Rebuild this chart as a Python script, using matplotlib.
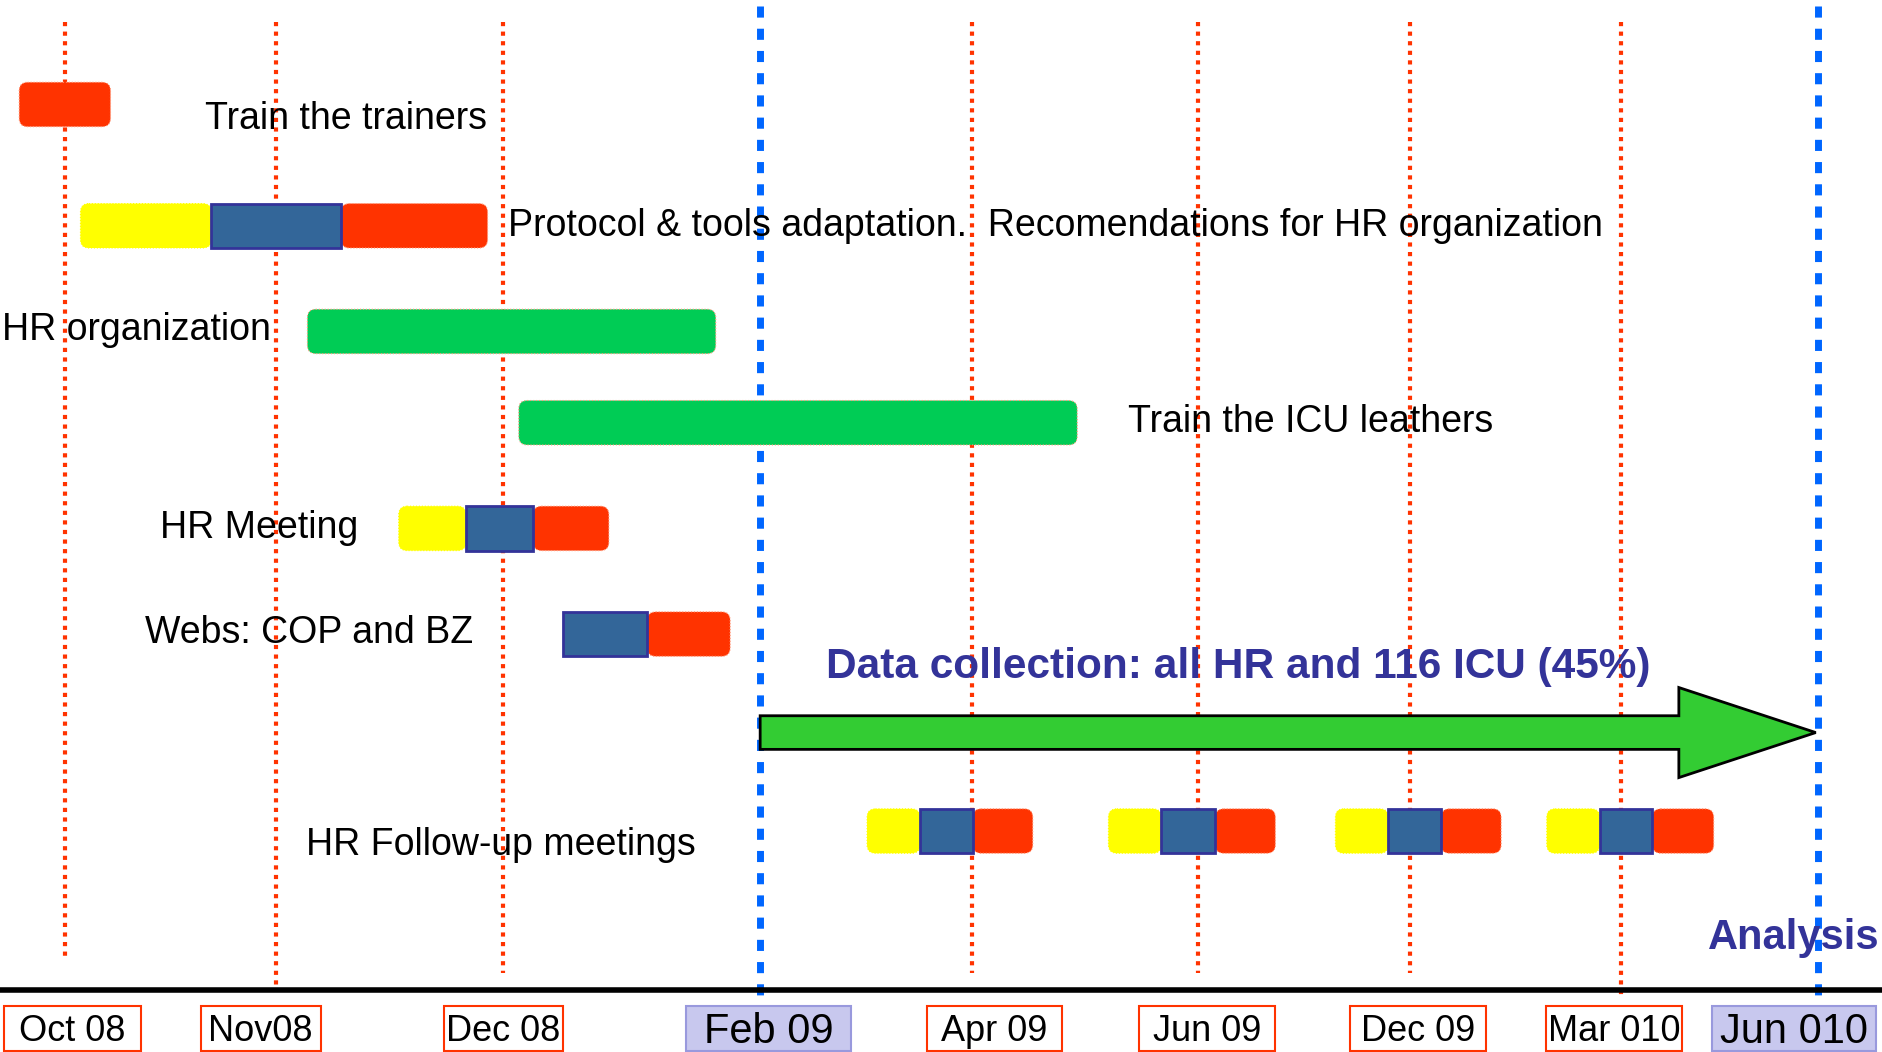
import matplotlib
matplotlib.use("Agg")
import matplotlib.pyplot as plt
from matplotlib.patches import FancyBboxPatch, Rectangle, Polygon

plt.rcParams['font.family'] = ['Liberation Sans', 'DejaVu Sans']

# timeline marks (x in chart units, 0..1568)
month_labels = ["Oct 08", "Nov08", "Dec 08", "Feb 09", "Apr 09", "Jun 09", "Dec 09", "Mar 010", "Jun 010"]
month_line_x = [54, 230, 419, 633, 809, 998, 1174, 1350, 1514]
month_label_x = [60, 217, 419, 640, 828, 1005, 1181, 1344, 1494]
month_box_w = [114, 100, 99, 138, 112, 113, 113, 113, 136]
milestone = [False, False, False, True, False, False, False, False, True]
line_bottom = [798, 820, 810, 835, 810, 810, 810, 830, 835]

# task segments: row centre y, start, end, phase
seg_y = [87, 188, 188, 188, 276, 352, 440, 440, 440, 528, 528,
         692, 692, 692, 692, 692, 692, 692, 692, 692, 692, 692, 692]
seg_start = [16, 67, 176, 284, 256, 432, 332, 388, 444, 469, 539,
             722, 766, 810, 923, 967, 1012, 1112, 1156, 1200, 1288, 1332, 1376]
seg_end = [92, 176, 284, 406, 596, 897, 388, 444, 507, 539, 608,
           766, 810, 860, 967, 1012, 1062, 1156, 1200, 1250, 1332, 1376, 1427]
seg_phase = ["red", "yellow", "blue", "red", "green", "green", "yellow", "blue", "red", "blue", "red",
             "yellow", "blue", "red", "yellow", "blue", "red", "yellow", "blue", "red", "yellow", "blue", "red"]

task_text = ["Train the trainers",
             "Protocol & tools adaptation.  Recomendations for HR organization",
             "HR organization", "Train the ICU leathers", "HR Meeting",
             "Webs: COP and BZ", "HR Follow-up meetings"]
task_text_x = [171, 423, 2, 939, 133, 121, 255]
task_text_y = [99, 188, 275, 351, 440, 527, 704]

arrow_start, arrow_end = 633, 1512
arrow_y = 610

colors = {"red": "#ff3300", "yellow": "#ffff00", "blue": "#336699", "green": "#00cc55"}

fig = plt.figure(figsize=(18.83, 10.52), dpi=100)
ax = fig.add_axes([0, 0, 1, 1])
ax.set_xlim(0, 1568)
ax.set_ylim(876, 0)
ax.axis("off")

# vertical month lines
for x, ms, yb in zip(month_line_x, milestone, line_bottom):
    if ms:
        ax.plot([x, x], [5, yb], color="#0066ff", lw=5, ls=(0, (1.6, 1.6)), zorder=1)
    else:
        ax.plot([x, x], [18, yb], color="#ff3300", lw=3, ls=(0, (1, 1.3)), zorder=1)

# baseline
ax.plot([0, 1568], [824, 824], color="black", lw=4, zorder=2)

# month label boxes
for lab, x, w, ms in zip(month_labels, month_label_x, month_box_w, milestone):
    if ms:
        ax.add_patch(Rectangle((x - w / 2, 838), w, 37, facecolor="#c8c8ee",
                               edgecolor="#9999dd", lw=1.5, zorder=3))
        ax.text(x, 859, lab, ha="center", va="center", fontsize=30, zorder=4)
    else:
        ax.add_patch(Rectangle((x - w / 2, 838), w, 37, facecolor="white",
                               edgecolor="#ff3300", lw=1.5, zorder=3))
        ax.text(x, 859, lab, ha="center", va="center", fontsize=26, zorder=4)

# task bars
h = 37
r = 7
for y, s, e, ph in zip(seg_y, seg_start, seg_end, seg_phase):
    if ph == "blue":
        ax.add_patch(Rectangle((s, y - h / 2), e - s, h, facecolor=colors[ph],
                               edgecolor="#333399", lw=2, zorder=5))
    else:
        ax.add_patch(FancyBboxPatch((s + r, y - h / 2 + r), e - s - 2 * r, h - 2 * r,
                                    boxstyle="round,pad=%d" % r, facecolor=colors[ph],
                                    edgecolor="#ff9977" if ph in ("red", "green") else colors[ph],
                                    lw=0.8, ls=":", zorder=4))

for t, x, y in zip(task_text, task_text_x, task_text_y):
    ax.text(x, y, t, ha="left", va="center", fontsize=27, zorder=6)

# data collection arrow
shaft_h, head_h, head_len = 28, 75, 114
ax.add_patch(Polygon([(arrow_start, arrow_y - shaft_h / 2),
                      (arrow_end - head_len, arrow_y - shaft_h / 2),
                      (arrow_end - head_len, arrow_y - head_h / 2),
                      (arrow_end, arrow_y),
                      (arrow_end - head_len, arrow_y + head_h / 2),
                      (arrow_end - head_len, arrow_y + shaft_h / 2),
                      (arrow_start, arrow_y + shaft_h / 2)],
                     closed=True, facecolor="#33cc33", edgecolor="black", lw=2, zorder=3))

ax.text(688, 555, "Data collection: all HR and 116 ICU (45%)", ha="left", va="center",
        fontsize=30.5, fontweight="bold", color="#333399", zorder=6)
ax.text(1422, 781, "Analysis", ha="left", va="center", fontsize=30, fontweight="bold",
        color="#333399", zorder=6)

fig.savefig("out.png", dpi=100)
